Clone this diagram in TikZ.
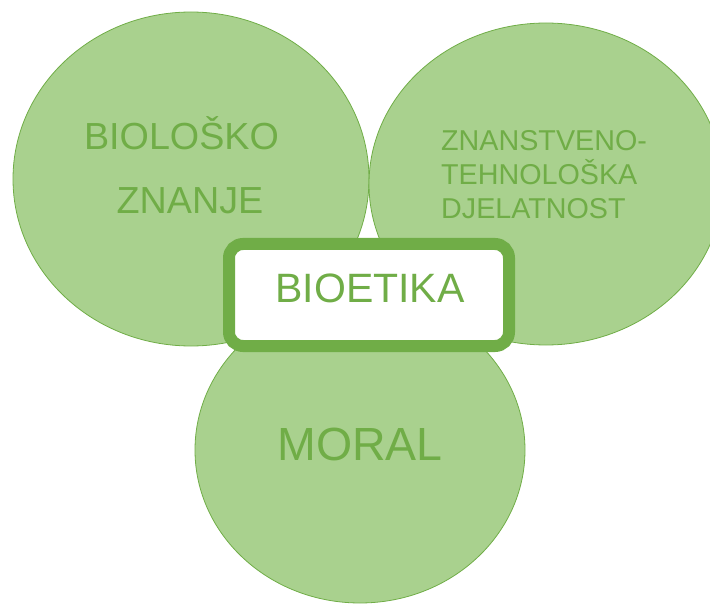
\documentclass[tikz,border=0pt]{standalone}
\usepackage{fontspec}
\setmainfont{Liberation Sans}
\usetikzlibrary{shapes.geometric}
\definecolor{lightgreen}{HTML}{A9D18E}
\definecolor{darkgreen}{HTML}{70AD47}
\begin{document}
\begin{tikzpicture}[x=1pt, y=-1pt,
    blob/.style={ellipse, fill=lightgreen, draw=darkgreen, line width=0.8pt, inner sep=0pt},
    label/.style={text=darkgreen, inner sep=0pt}]
    \useasboundingbox (0,0) rectangle (710,604);

    % Circles
    \node[blob, minimum width=356, minimum height=334] (bio) at (191,179) {};
    \node[blob, minimum width=354, minimum height=322] (tech) at (546,184) {};
    \node[blob, minimum width=330, minimum height=306] (moral) at (360,450) {};

    % Circle texts
    \node[label, anchor=base, font=\fontsize{37.7}{40}\selectfont] (biotext1) at (181.5,150) {BIOLOŠKO};
    \node[label, anchor=base, font=\fontsize{37.7}{40}\selectfont] (biotext2) at (190,214) {ZNANJE};
    \node[label, anchor=base west, font=\fontsize{28.7}{30}\selectfont] (techtext1) at (441,151) {ZNANSTVENO-};
    \node[label, anchor=base west, font=\fontsize{28.7}{30}\selectfont] (techtext2) at (441,185) {TEHNOLOŠKA};
    \node[label, anchor=base west, font=\fontsize{28.7}{30}\selectfont] (techtext3) at (441,219) {DJELATNOST};
    \node[label, anchor=base, font=\fontsize{46.5}{50}\selectfont] (moraltext) at (360,460) {MORAL};

    % Centre box
    \node[draw=darkgreen, fill=white, line width=12pt, rounded corners=14pt,
          minimum width=280, minimum height=102, inner sep=0pt] (bioetika) at (369,295) {};
    \node[label, anchor=base, font=\fontsize{41}{44}\selectfont] (bioetikatext) at (370,303) {BIOETIKA};
\end{tikzpicture}
\end{document}
